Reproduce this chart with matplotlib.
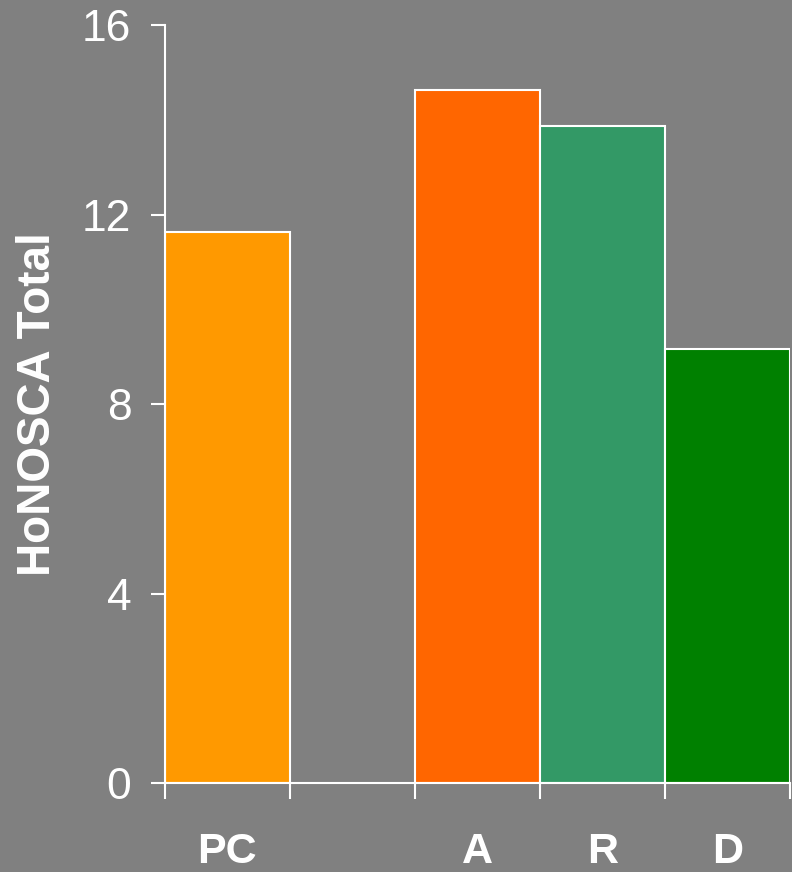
import matplotlib.pyplot as plt

# Data
categories = ['PC', '', 'A', 'R', 'D']
values = [11.63, None, 14.63, 13.86, 9.17]
colors = ['#ff9900', None, '#ff6600', '#339966', '#008000']
y_ticks = [0, 4, 8, 12, 16]

bg = '#808080'
plt.rcParams['font.family'] = ['Liberation Sans', 'DejaVu Sans']

fig = plt.figure(figsize=(7.92, 8.72), dpi=100, facecolor=bg)
ax = fig.add_axes([0.208, 0.1017, 0.79, 0.8696], facecolor=bg)

for i, (v, c) in enumerate(zip(values, colors)):
    if v is None:
        continue
    ax.bar(i, v, width=1.0, color=c, edgecolor='white', linewidth=1.5, zorder=2)

ax.set_xlim(-0.5, len(categories) - 0.5)
ax.set_ylim(0, 16)

# y axis
ax.set_yticks(y_ticks)
ax.set_yticklabels([str(t) for t in y_ticks], fontsize=32, color='white')
ax.tick_params(axis='y', colors='white', length=10, width=1.5, pad=14,
               labelcolor='white')

# x axis: ticks at slot boundaries, labels at centers
ax.set_xticks([i - 0.5 for i in range(len(categories) + 1)])
ax.set_xticklabels([])
ax.tick_params(axis='x', which='major', colors='white', length=11.5, width=1.5)
ax.set_xticks(range(len(categories)), minor=True)
ax.set_xticklabels(categories, minor=True, fontsize=31, fontweight='bold',
                   color='white')
ax.tick_params(axis='x', which='minor', length=0, pad=35)

ax.set_ylabel('HoNOSCA Total', fontsize=33, fontweight='bold', color='white',
              labelpad=16)

for s in ['top', 'right']:
    ax.spines[s].set_visible(False)
for s in ['left', 'bottom']:
    ax.spines[s].set_color('white')
    ax.spines[s].set_linewidth(1.5)

fig.savefig('out.png', dpi=100, facecolor=bg)
